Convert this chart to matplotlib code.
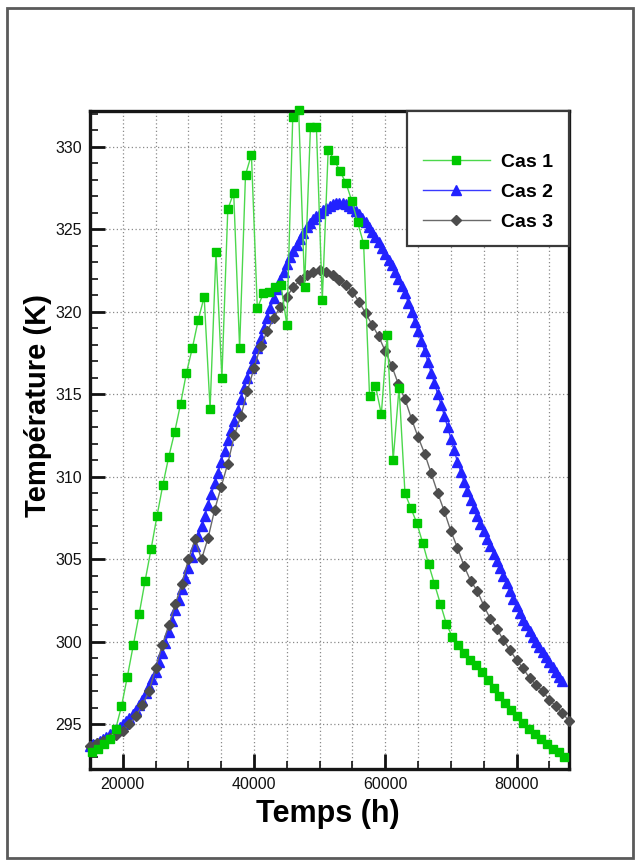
import numpy as np
import matplotlib
matplotlib.use("Agg")
import matplotlib.pyplot as plt
from matplotlib.ticker import MultipleLocator
from matplotlib.patches import Rectangle
from matplotlib import font_manager

available = {f.name for f in font_manager.fontManager.ttflist}
families = [f for f in ["Liberation Sans Narrow", "Liberation Sans", "DejaVu Sans"] if f in available]
plt.rcParams["font.family"] = families

# Cas 1: sampled every 900 h from 15300 h
cas1_t0, cas1_dt = 15300, 900
cas1_T = [293.3, 293.5, 293.8, 294.1, 294.7, 296.1, 297.9, 299.8, 301.7, 303.7,
          305.6, 307.6, 309.5, 311.2, 312.7, 314.4, 316.3, 317.8, 319.5, 320.9,
          314.1, 323.6, 316.0, 326.2, 327.2, 317.8, 328.3, 329.5, 320.2, 321.1,
          321.2, 321.5, 321.6, 319.2, 331.8, 332.2, 321.5, 331.2, 331.2, 320.7,
          329.8, 329.2, 328.5, 327.8, 326.7, 325.4, 324.1, 314.9, 315.5, 313.8,
          318.6, 311.0, 315.4, 309.0, 308.1, 307.2, 306.0, 304.7, 303.5, 302.3,
          301.1, 300.3, 299.8, 299.3, 298.9, 298.6, 298.2, 297.7, 297.2, 296.7,
          296.3, 295.9, 295.5, 295.1, 294.7, 294.4, 294.1, 293.8, 293.5, 293.3,
          293.0]

# Cas 2: sampled every 500 h from 15000 h
cas2_t0, cas2_dt = 15000, 500
cas2_T = [293.7, 293.8, 293.9, 294.0, 294.1, 294.25, 294.4, 294.55, 294.7, 294.85,
          295.0, 295.2, 295.4, 295.65, 295.9, 296.2, 296.5, 296.9, 297.3, 297.75,
          298.2, 298.75, 299.3, 299.95, 300.6, 301.25, 301.9, 302.55, 303.2, 303.85,
          304.5, 305.15, 305.8, 306.4, 307.0, 307.65, 308.3, 308.95, 309.6, 310.25,
          310.9, 311.55, 312.2, 312.8, 313.4, 314.05, 314.7, 315.35, 316.0, 316.6,
          317.2, 317.8, 318.4, 319.0, 319.6, 320.2, 320.8, 321.35, 321.9, 322.4,
          322.9, 323.3, 323.7, 324.05, 324.4, 324.75, 325.1, 325.35, 325.6, 325.8,
          326.0, 326.15, 326.3, 326.4, 326.5, 326.55, 326.6, 326.55, 326.5, 326.4,
          326.3, 326.1, 325.9, 325.65, 325.4, 325.1, 324.8, 324.5, 324.2, 323.85,
          323.5, 323.15, 322.8, 322.4, 322.0, 321.55, 321.1, 320.55, 320.0, 319.4,
          318.8, 318.2, 317.6, 316.95, 316.3, 315.65, 315.0, 314.35, 313.7, 313.0,
          312.3, 311.6, 310.9, 310.3, 309.7, 309.15, 308.6, 308.1, 307.6, 307.15,
          306.7, 306.25, 305.8, 305.35, 304.9, 304.45, 304.0, 303.55, 303.1, 302.6,
          302.15, 301.75, 301.35, 301.0, 300.65, 300.3, 300.0, 299.7, 299.4, 299.1,
          298.8, 298.5, 298.2, 297.9, 297.6]

# Cas 3: sampled every 1000 h from 15000 h
cas3_t0, cas3_dt = 15000, 1000
cas3_T = [293.7, 293.85, 294.0, 294.15, 294.35, 294.6, 295.0, 295.5, 296.2, 297.0,
          298.4, 299.8, 301.0, 302.3, 303.5, 305.0, 306.2, 305.0, 306.3, 308.0,
          309.4, 310.8, 312.5, 313.7, 315.2, 316.6, 317.9, 318.8, 319.6, 320.3,
          320.9, 321.5, 321.9, 322.2, 322.4, 322.5, 322.4, 322.2, 321.9, 321.6,
          321.2, 320.6, 319.9, 319.2, 318.5, 317.6, 316.7, 315.6, 314.7, 313.5,
          312.4, 311.4, 310.2, 309.0, 307.9, 306.7, 305.7, 304.6, 303.7, 303.1,
          302.2, 301.4, 300.8, 300.1, 299.5, 298.9, 298.4, 297.8, 297.4, 297.0,
          296.5, 296.1, 295.7, 295.2]

labels = ["Cas 1", "Cas 2", "Cas 3"]

t1 = cas1_t0 + cas1_dt * np.arange(len(cas1_T))
t2 = cas2_t0 + cas2_dt * np.arange(len(cas2_T))
t3 = cas3_t0 + cas3_dt * np.arange(len(cas3_T))

fig = plt.figure(figsize=(6.41, 8.64), dpi=100)
ax = fig.add_axes([0.1404, 0.110, 0.7473, 0.7615])

h2, = ax.plot(t2, cas2_T, color="#3a3aff", lw=1.0, marker="^", ms=7.0,
              mfc="#2222ff", mec="#2222ff", label=labels[1], zorder=3, clip_on=False)
h3, = ax.plot(t3, cas3_T, color="#6a6a6a", lw=1.0, marker="D", ms=5.4,
              mfc="#4c4c4c", mec="#4c4c4c", label=labels[2], zorder=4, clip_on=False)
h1, = ax.plot(t1, cas1_T, color="#4cd84c", lw=1.0, marker="s", ms=5.6,
              mfc="#00c800", mec="#00c800", label=labels[0], zorder=5, clip_on=False)

ax.set_xlim(15000, 88000)
ax.set_ylim(292.3, 332.15)

ax.xaxis.set_major_locator(MultipleLocator(20000))
ax.xaxis.set_minor_locator(MultipleLocator(5000))
ax.yaxis.set_major_locator(MultipleLocator(5))
ax.yaxis.set_minor_locator(MultipleLocator(1))

ax.tick_params(which="both", direction="in", top=False, right=False, colors="#111111")
ax.tick_params(which="major", length=11, width=2.0, labelsize=11.5, pad=6)
ax.tick_params(which="minor", length=6, width=1.2)

ax.grid(True, which="major", axis="y", ls=(0, (1, 2)), color="#8a8a8a", lw=0.9)
ax.grid(True, which="both", axis="x", ls=(0, (1, 2)), color="#8a8a8a", lw=0.9)
ax.set_axisbelow(True)

for s in ax.spines.values():
    s.set_linewidth(2.4)
    s.set_color("#161616")

ax.set_xlabel("Temps (h)", fontsize=22, fontweight="bold")
ax.xaxis.set_label_coords(0.497, -0.045)
ax.set_ylabel("Température (K)", fontsize=21, fontweight="bold")
ax.yaxis.set_label_coords(-0.08, 0.553)

leg = ax.legend(handles=[h1, h2, h3], labels=labels, loc="upper right",
                bbox_to_anchor=(1.0, 1.0), borderaxespad=0.0, fancybox=False,
                framealpha=1.0, edgecolor="#3a3a3a", numpoints=1,
                handlelength=3.45, handletextpad=0.6, borderpad=0.8,
                labelspacing=0.64, title=" ", title_fontsize=10,
                prop={"weight": "bold", "size": 14})
leg.get_frame().set_linewidth(1.6)
leg.set_zorder(10)

fig.patches.append(Rectangle((0.011, 0.007), 0.977, 0.984, transform=fig.transFigure,
                             fill=False, edgecolor="#5a5a5a", lw=2.0))

fig.savefig("out.png", dpi=100)
